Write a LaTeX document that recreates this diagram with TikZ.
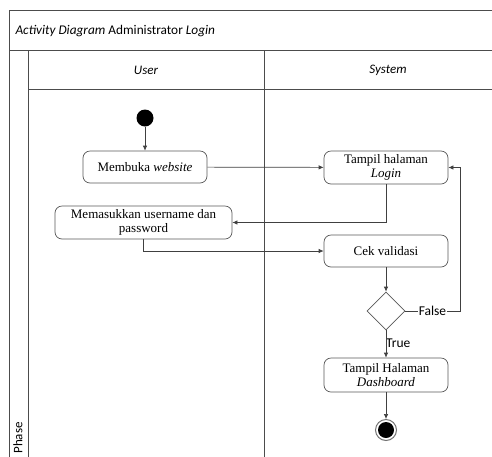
\documentclass[tikz,border=0pt]{standalone}
\usepackage{fontspec}
\setmainfont{Liberation Serif}
\newfontfamily\calib{Carlito}
\usetikzlibrary{shapes.geometric,arrows.meta}
\begin{document}
\begin{tikzpicture}[x=1pt,y=-1pt,
  frame/.style={draw=black!70,line width=0.9pt},
  act/.style={draw=black!65,line width=0.7pt,rounded corners=7pt,minimum width=124pt,align=center,font=\fontsize{13}{14.5}\selectfont,inner sep=1pt},
  flow/.style={draw=black!75,line width=0.7pt,-{Latex[length=5pt,width=4.5pt]}},
  plain/.style={draw=black!75,line width=0.7pt},
  lbl/.style={font=\calib\fontsize{13.5}{15}\selectfont,inner sep=1pt}]
\useasboundingbox (0,0) rectangle (492,456);
\fill[white] (0,0) rectangle (492,456);
\begin{scope}
\clip (0,0) rectangle (492,456);
% frame
\draw[frame] (9,480) -- (9,10) -- (520,10);
\draw[frame] (9,50) -- (520,50);
\draw[frame] (28,50) -- (28,480);
\draw[frame] (28,89) -- (520,89);
\draw[frame] (264,50) -- (264,480);
\node[anchor=west,font=\calib\fontsize{13.3}{15}\selectfont] (title) at (12,31) {\textit{Activity Diagram} Administrator \textit{Login}};
\node[font=\calib\itshape\fontsize{13}{14}\selectfont] (user) at (146,70) {User};
\node[font=\calib\itshape\fontsize{13}{14}\selectfont] (system) at (388,70) {System};
\node[rotate=90,font=\calib\fontsize{13}{14}\selectfont] (phase) at (18,438) {Phase};
% nodes
\node[circle,fill=black,minimum size=17pt,inner sep=0pt] (start) at (145,118) {};
\node[act,minimum height=32pt] (buka) at (145,167) {Membuka \textit{website}};
\node[act,minimum height=33pt] (login) at (386,167.5) {Tampil halaman\\\textit{Login}};
\node[act,minimum height=33pt,minimum width=177pt] (masuk) at (143.5,222.5) {Memasukkan username dan\\password};
\node[act,minimum height=32pt] (cek) at (386,251) {Cek validasi};
\node[diamond,draw=black!65,line width=0.7pt,minimum width=38pt,minimum height=38pt,inner sep=0pt] (dec) at (386,311) {};
\node[act,minimum height=34pt] (dash) at (386,375) {Tampil Halaman\\\textit{Dashboard}};
\node[circle,draw=black!55,line width=1pt,minimum size=21pt,inner sep=0pt] (end) at (386,430) {};
\fill[black] (end.center) circle (8pt);
\node[lbl] (false) at (432.5,311) {False};
\node[lbl,anchor=west] (true) at (385,343.5) {True};
% connectors
\draw[flow] (start) -- (buka);
\draw[flow] (buka) -- (login);
\draw[flow] (login.south) |- (masuk.east);
\draw[flow] (masuk.south) |- (cek.west);
\draw[flow] (cek) -- (dec);
\draw[plain] (dec.east) -- (false.west);
\draw[flow] (false.east) -| (460,167.5) -- (login.east);
\draw[flow] (dec.south) -- (dash.north);
\draw[flow] (dash) -- (end);
\end{scope}
\end{tikzpicture}
\end{document}
